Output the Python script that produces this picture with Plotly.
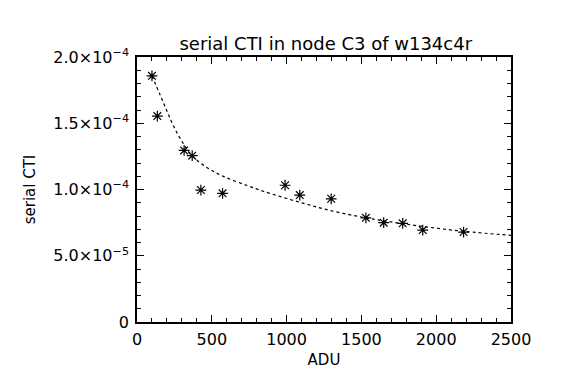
import plotly.graph_objects as go

# measured data points (ADU, serial CTI)
adu = [100, 136, 315, 369, 427, 572, 990, 1088, 1298, 1530, 1649, 1776, 1910, 2183]
cti = [1.858e-4, 1.554e-4, 1.295e-4, 1.255e-4, 0.996e-4, 0.971e-4, 1.032e-4, 0.958e-4,
       0.930e-4, 0.786e-4, 0.750e-4, 0.745e-4, 0.694e-4, 0.679e-4]

# fitted curve
fit_adu = [100, 156, 201, 246, 302, 369, 469, 581, 737, 849, 1115, 1316, 1517, 1696, 1919, 2187, 2500]
fit_cti = [1.858e-4, 1.710e-4, 1.590e-4, 1.475e-4, 1.360e-4, 1.255e-4, 1.165e-4, 1.097e-4,
           1.030e-4, 0.985e-4, 0.895e-4, 0.835e-4, 0.789e-4, 0.755e-4, 0.720e-4, 0.684e-4, 0.654e-4]

x_ticks = [0, 500, 1000, 1500, 2000, 2500]
y_ticks = [0, 5e-5, 1e-4, 1.5e-4, 2e-4]
y_tick_labels = ["0", "5.0×10<sup>−5</sup>", "1.0×10<sup>−4</sup>",
                 "1.5×10<sup>−4</sup>", "2.0×10<sup>−4</sup>"]

FONT = "DejaVu Sans"

fig = go.Figure()
fig.add_trace(go.Scatter(x=fit_adu, y=fit_cti, mode="lines",
                         line=dict(color="black", width=1.2, dash="dot", shape="spline"),
                         showlegend=False, hoverinfo="skip"))
fig.add_trace(go.Scatter(x=adu, y=cti, mode="markers",
                         marker=dict(symbol="asterisk-open", size=9, color="black",
                                     line=dict(color="black", width=1.2)),
                         showlegend=False))

axis_common = dict(showline=True, linecolor="black", linewidth=1.5, mirror="allticks",
                   ticks="inside", ticklen=7, tickwidth=1.2, tickcolor="black",
                   showgrid=False, zeroline=False,
                   tickfont=dict(family=FONT, size=16, color="black"))

fig.update_xaxes(range=[0, 2500], tickvals=x_ticks,
                 minor=dict(dtick=100, ticklen=4, ticks="inside", tickcolor="black", tickwidth=1.2),
                 title=dict(text="ADU", font=dict(family=FONT, size=15, color="black"), standoff=7),
                 ticklabelstandoff=2, **axis_common)
fig.update_yaxes(range=[0, 2e-4], tickvals=y_ticks, ticktext=y_tick_labels,
                 minor=dict(dtick=1e-5, ticklen=4, ticks="inside", tickcolor="black", tickwidth=1.2),
                 title=dict(text="serial CTI", font=dict(family=FONT, size=15, color="black"), standoff=14),
                 ticklabelstandoff=3, **axis_common)

fig.update_layout(
    width=546, height=367,
    margin=dict(l=129, r=43, t=49, b=53, autoexpand=False),
    paper_bgcolor="white", plot_bgcolor="white",
    title=dict(text="serial CTI in node C3 of w134c4r", x=0.582, xanchor="center",
               y=0.902, yanchor="middle", font=dict(family=FONT, size=18, color="black")),
)

fig.write_html("out.html")
